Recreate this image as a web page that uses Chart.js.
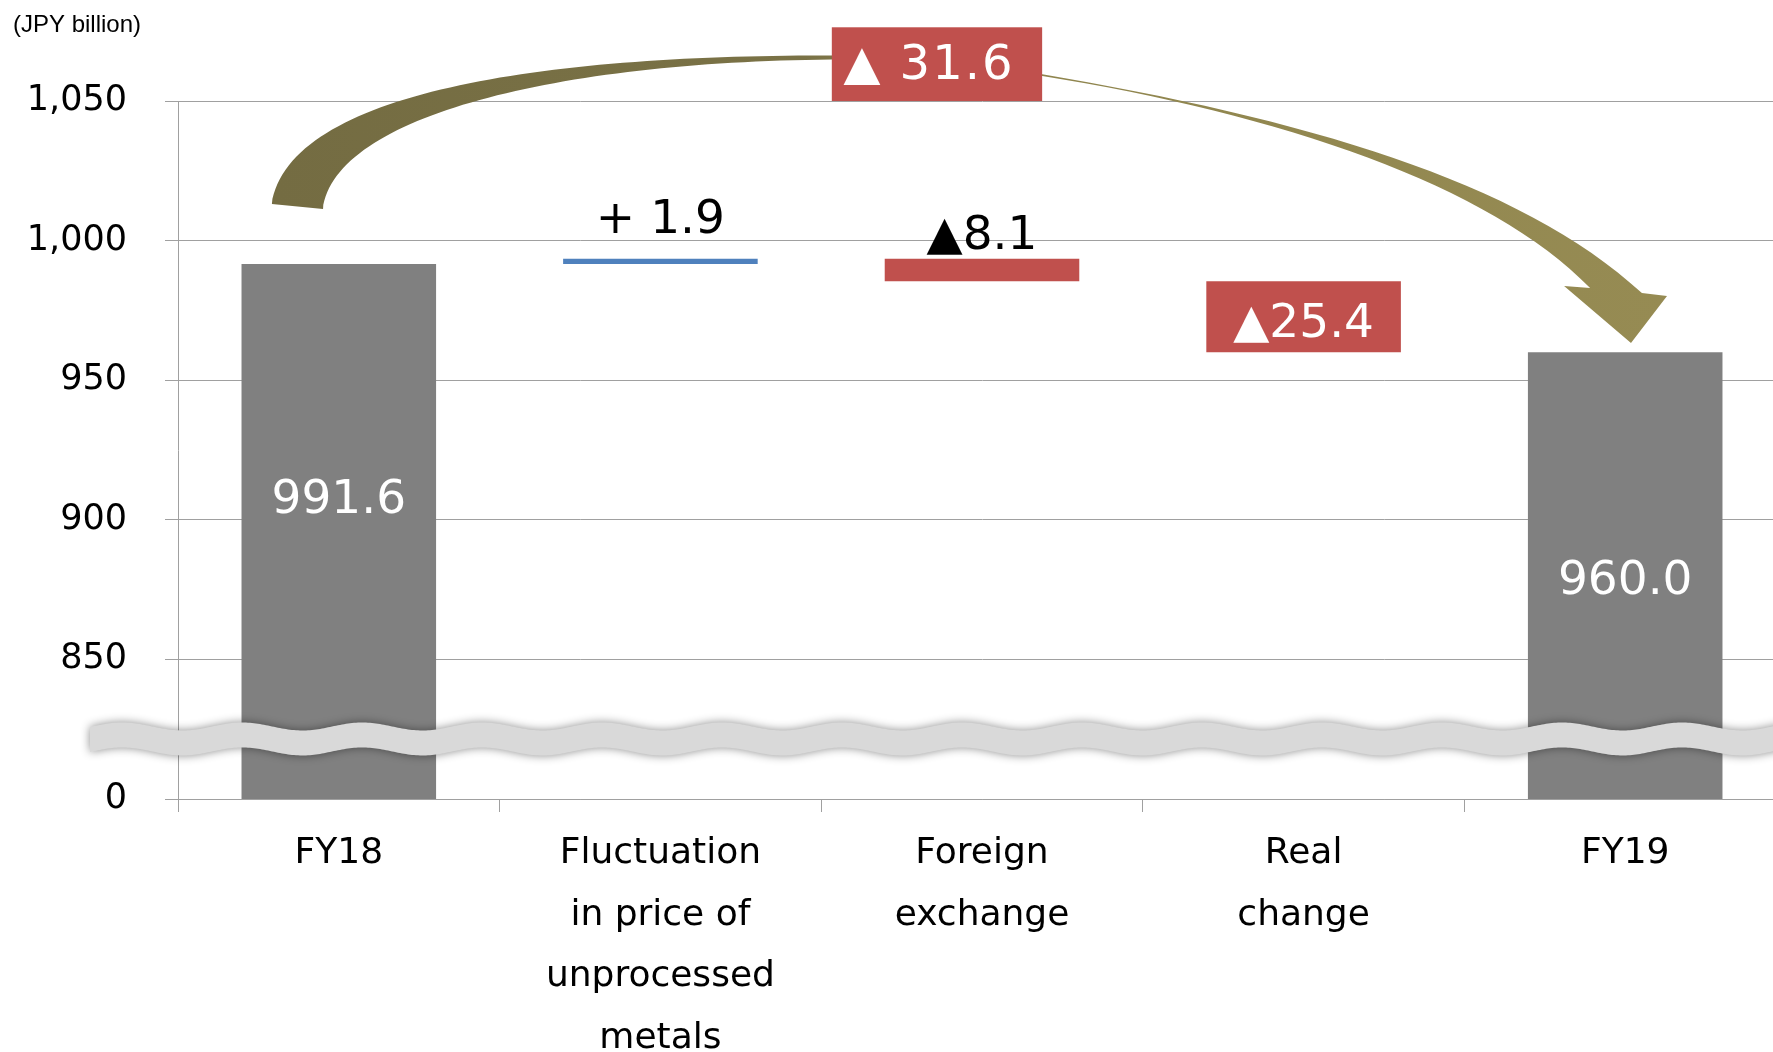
<!DOCTYPE html>
<html>
<head>
<meta charset="utf-8">
<title>Net sales bridge FY18 to FY19</title>
<script src="https://cdn.jsdelivr.net/npm/chart.js@4.4.1/dist/chart.umd.min.js"></script>
<style>
  html, body { margin: 0; padding: 0; background: #fff; overflow: hidden; }
  #wrap { width: 1792px; height: 1052px; }
</style>
</head>
<body>
<div id="wrap"><canvas id="bridgeChart" width="1792" height="1052"></canvas></div>
<script>
const categories = [
  ["FY18"],
  ["Fluctuation", "in price of", "unprocessed", "metals"],
  ["Foreign", "exchange"],
  ["Real", "change"],
  ["FY19"],
];
const barKinds = ["total", "delta", "delta", "delta", "total"];
const barValues = [991.6, 1.9, -8.1, -25.4, 960.0];
const yTickValues = [800, 850, 900, 950, 1000, 1050];
const yTickLabels = ["0", "850", "900", "950", "1,000", "1,050"];
const unitLabel = "(JPY billion)";

const FONT = "'DejaVu Sans', Verdana, sans-serif";
const GRID = "#a0a0a0";
const GRAY = "#808080";
const BLUE = "#4f81bd";
const RED = "#c0504d";
const AXIS_FLOOR = yTickValues[0]; // broken axis: bottom stands for 0
const BREAK_VALUE = 821.5;

// waterfall: totals start at the floor, deltas float from the running total
let running = 0;
const floating = barValues.map((v, i) => {
  if (barKinds[i] === "total") {
    running = v;
    return [AXIS_FLOOR, v];
  }
  const start = running;
  running = Math.round((running + v) * 10) / 10;
  return [start, running];
});
const barColors = barValues.map((v, i) =>
  barKinds[i] === "total" ? GRAY : v >= 0 ? BLUE : RED
);
const totalChange = barValues
  .filter((v, i) => barKinds[i] === "delta")
  .reduce((a, b) => a + b, 0);

function labelText(i) {
  const v = barValues[i];
  if (barKinds[i] === "total") return v.toFixed(1);
  return v >= 0 ? "+ " + v.toFixed(1) : "\u25B2" + Math.abs(v).toFixed(1);
}

// small nudges so labels sit where the original puts them
const insideNudge = [-31, 0, 0, 8, 6];
const aboveGap = [0, 26, 10, 0, 0];

// curved arrow outline in (category index, value) space, as path commands
const arrowPath = [
  ["M", [-0.208, 1013.1]],
  ["C", [-0.152, 1053.9], [0.657, 1066.5], [1.53, 1066.3]],
  ["C", [1.745, 1066.8], [1.994, 1064.0], [2.183, 1059.7]],
  ["C", [2.989, 1043.9], [3.673, 1021.7], [4.052, 981.2]],
  ["L", [4.13, 980.2]],
  ["L", [4.018, 963.3]],
  ["L", [3.81, 983.7]],
  ["L", [3.891, 983.0]],
  ["C", [3.58, 1019.9], [2.927, 1045.3], [2.183, 1059.0]],
  ["C", [1.994, 1062.9], [1.745, 1065.4], [1.53, 1064.9]],
  ["C", [0.688, 1064.0], [-0.012, 1045.0], [-0.049, 1011.3]],
];

const bridgeDecor = {
  id: "bridgeDecor",
  afterDatasetsDraw(chart) {
    const ctx = chart.ctx;
    const x = chart.scales.x;
    const y = chart.scales.y;
    const area = chart.chartArea;

    // value labels
    const meta = chart.getDatasetMeta(0);
    ctx.save();
    ctx.font = "47px " + FONT;
    ctx.textAlign = "center";
    meta.data.forEach((bar, i) => {
      const p = bar.getProps(["x", "y", "base"], true);
      const top = Math.min(p.y, p.base);
      const bottom = Math.max(p.y, p.base);
      const txt = labelText(i);
      if (bottom - top > 50) {
        ctx.fillStyle = "#fff";
        ctx.textBaseline = "middle";
        ctx.fillText(txt, p.x, (top + bottom) / 2 + insideNudge[i]);
      } else {
        ctx.fillStyle = "#000";
        ctx.textBaseline = "alphabetic";
        ctx.fillText(txt, p.x, top - aboveGap[i]);
      }
    });
    ctx.restore();

    // wavy axis-break band
    const yc = y.getPixelForValue(BREAK_VALUE);
    const x0 = area.left - 88;
    const x1 = chart.width;
    const phase = x.getPixelForValue(-0.3);
    const period = 120;
    const amp = 4;
    const half = 12.5;
    const wave = (px) => -amp * Math.cos((2 * Math.PI * (px - phase)) / period);
    ctx.save();
    ctx.beginPath();
    ctx.moveTo(x0, yc - half + wave(x0));
    for (let px = x0; px <= x1; px += 2) ctx.lineTo(px, yc - half + wave(px));
    for (let px = x1; px >= x0; px -= 2) ctx.lineTo(px, yc + half + wave(px));
    ctx.closePath();
    ctx.shadowColor = "rgba(0,0,0,0.45)";
    ctx.shadowBlur = 10;
    ctx.fillStyle = "#d9d9d9";
    ctx.fill();
    ctx.restore();
  },
  afterDraw(chart) {
    const ctx = chart.ctx;
    const x = chart.scales.x;
    const y = chart.scales.y;
    const P = (pt) => [x.getPixelForValue(pt[0]), y.getPixelForValue(pt[1])];

    // curved arrow FY18 -> FY19
    ctx.save();
    const left = P(arrowPath[0][1])[0];
    const right = P([4.13, 980])[0];
    const g = ctx.createLinearGradient(left, 0, right, 0);
    g.addColorStop(0, "#746c42");
    g.addColorStop(0.38, "#7a7246");
    g.addColorStop(0.55, "#8f854e");
    g.addColorStop(1, "#968b53");
    ctx.beginPath();
    arrowPath.forEach((cmd) => {
      const pts = cmd.slice(1).map(P);
      if (cmd[0] === "M") ctx.moveTo(pts[0][0], pts[0][1]);
      else if (cmd[0] === "L") ctx.lineTo(pts[0][0], pts[0][1]);
      else ctx.bezierCurveTo(pts[0][0], pts[0][1], pts[1][0], pts[1][1], pts[2][0], pts[2][1]);
    });
    ctx.closePath();
    ctx.fillStyle = g;
    ctx.fill();
    ctx.restore();

    // total change box on the arrow
    const bx0 = x.getPixelForValue(1.533);
    const bx1 = x.getPixelForValue(2.187);
    const by0 = y.getPixelForValue(1076.4);
    const by1 = y.getPixelForValue(1050);
    ctx.save();
    ctx.fillStyle = RED;
    ctx.fillRect(bx0, by0, bx1 - bx0, by1 - by0);
    ctx.fillStyle = "#fff";
    ctx.font = "48px " + FONT;
    ctx.textAlign = "center";
    ctx.textBaseline = "middle";
    ctx.letterSpacing = "2px";
    ctx.fillText("\u25B2 " + Math.abs(totalChange).toFixed(1), (bx0 + bx1) / 2 - 8, (by0 + by1) / 2 + 2);
    ctx.restore();

    // unit caption
    ctx.save();
    ctx.fillStyle = "#000";
    ctx.font = "24px 'Liberation Sans', Arial, sans-serif";
    ctx.textAlign = "left";
    ctx.textBaseline = "middle";
    ctx.fillText(unitLabel, 13, 25);
    ctx.restore();
  },
};

new Chart(document.getElementById("bridgeChart"), {
  type: "bar",
  data: {
    labels: categories,
    datasets: [
      {
        data: floating,
        backgroundColor: barColors,
        borderWidth: 0,
        barPercentage: 0.605,
        categoryPercentage: 1,
      },
    ],
  },
  options: {
    responsive: false,
    animation: false,
    devicePixelRatio: 1,
    layout: { padding: { top: 101, right: 6, bottom: 0, left: 0 } },
    plugins: {
      legend: { display: false },
      tooltip: { enabled: false },
    },
    scales: {
      x: {
        grid: {
          display: true,
          drawOnChartArea: false,
          drawTicks: true,
          tickLength: 13,
          color: GRID,
          offset: true,
        },
        border: { color: GRID },
        ticks: {
          font: { family: FONT, size: 36, lineHeight: 1.71 },
          color: "#000",
          padding: 11,
          maxRotation: 0,
          autoSkip: false,
        },
        afterFit: (s) => {
          s.height = 253;
        },
      },
      y: {
        min: AXIS_FLOOR,
        max: yTickValues[yTickValues.length - 1],
        grid: { color: GRID, tickLength: 13 },
        border: { color: GRID },
        ticks: {
          stepSize: 50,
          padding: 38,
          color: "#000",
          font: { family: FONT, size: 35 },
          callback: (v) => yTickLabels[yTickValues.indexOf(v)],
        },
        afterBuildTicks: (s) => {
          s.ticks = yTickValues.map((v) => ({ value: v }));
        },
        afterFit: (s) => {
          s.width = 178;
        },
      },
    },
  },
  plugins: [bridgeDecor],
});
</script>
</body>
</html>
